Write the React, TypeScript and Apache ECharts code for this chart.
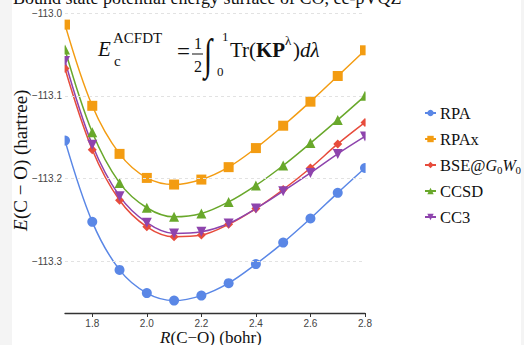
import React, { useEffect, useRef } from "react";
import * as echarts from "echarts";

const bondLengths = [1.7, 1.8, 1.9, 2.0, 2.1, 2.2, 2.3, 2.4, 2.5, 2.6, 2.7, 2.8];
const rpa = [-113.154, -113.252, -113.31, -113.338, -113.347, -113.341, -113.326, -113.303, -113.277, -113.248, -113.217, -113.187];
const rpax = [-113.014, -113.112, -113.17, -113.199, -113.207, -113.201, -113.186, -113.163, -113.136, -113.107, -113.076, -113.045];
const bse = [-113.067, -113.165, -113.226, -113.258, -113.27, -113.268, -113.255, -113.236, -113.213, -113.187, -113.158, -113.132];
const ccsd = [-113.044, -113.144, -113.205, -113.235, -113.246, -113.242, -113.228, -113.208, -113.184, -113.157, -113.129, -113.1];
const cc3 = [-113.058, -113.159, -113.221, -113.253, -113.266, -113.264, -113.254, -113.236, -113.215, -113.193, -113.17, -113.149];

const xTicks = [1.8, 2.0, 2.2, 2.4, 2.6, 2.8];
const yTicks = [-113.3, -113.2, -113.1, -113.0];
const seriesNames = ["RPA", "RPAx", "BSE@G0W0", "CCSD", "CC3"];

const SERIF = "Liberation Serif";
const SANS = "Liberation Sans";

export default function App() {
  const ref = useRef<HTMLDivElement>(null);
  useEffect(() => {
    const chart = echarts.init(ref.current!, null, { renderer: "svg" });
    const minus = (v: number, d: number) => (v < 0 ? "\u2212" : "") + Math.abs(v).toFixed(d);
    const mk = (name: string, data: number[], color: string, symbol: string, size: number, rotate = 0) => ({
      name,
      type: "line",
      data: bondLengths.map((x, i) => [x, data[i]]),
      smooth: 0.35,
      symbol,
      symbolSize: size,
      symbolRotate: rotate,
      showSymbol: true,
      lineStyle: { color, width: 1.5 },
      itemStyle: { color },
      z: 2,
    });
    const t = (text: string, x: number, y: number, size: number, extra: any = {}) => ({
      type: "text",
      x,
      y,
      z: 20,
      style: { text, fontFamily: SERIF, fontSize: size, fill: "#111", align: "left", verticalAlign: "middle", ...extra },
    });
    // legend geometry: rows of height 16 separated by 10
    const legendTop = 105;
    const rowH = 16;
    const rowGap = 10;
    const rowY = (k: number) => legendTop + k * (rowH + rowGap) + rowH / 2;
    const labelX = 440;
    const bseY = rowY(2);
    chart.setOption({
      animation: false,
      backgroundColor: "#ffffff",
      textStyle: { fontFamily: SERIF },
      grid: { left: 65, right: 159, top: 13, bottom: 32, containLabel: false, outerBoundsMode: "none" },
      xAxis: {
        type: "value",
        min: 1.7,
        max: 2.8,
        z: 10,
        axisLine: { show: true, lineStyle: { color: "#333", width: 1.3 } },
        axisTick: { show: true, length: 4, customValues: xTicks, lineStyle: { color: "#333" } },
        axisLabel: { customValues: xTicks, formatter: (v: number) => v.toFixed(1), color: "#444", fontSize: 10, fontFamily: SANS, margin: 5 },
        splitLine: { show: false },
      },
      yAxis: {
        type: "value",
        min: -113.362,
        max: -113.0,
        z: 10,
        axisLine: { show: false },
        axisTick: { show: false, customValues: yTicks },
        axisLabel: { customValues: yTicks, formatter: (v: number) => minus(v, 1), color: "#444", fontSize: 10, fontFamily: SANS, margin: 3 },
        splitLine: { show: true, lineStyle: { color: "#e2e2e2", type: [3, 3], width: 1 } },
      },
      legend: {
        orient: "vertical",
        left: 424,
        top: legendTop,
        padding: 0,
        itemWidth: 11,
        itemHeight: 8,
        itemGap: rowGap,
        textStyle: { fontSize: 12, lineHeight: rowH, height: rowH, color: "rgba(0,0,0,0)" },
        formatter: () => " ",
        data: seriesNames,
      },
      graphic: [
        t("Bound state potential energy surface of CO, cc-pVQZ", 13, 6.5, 18, { verticalAlign: "bottom" }),
        { type: "rect", z: 30, shape: { x: 0, y: 0, width: 12, height: 345 }, style: { fill: "#f4f4f4" } },
        { type: "rect", z: 30, shape: { x: 521, y: 0, width: 3, height: 345 }, style: { fill: "#f4f4f4" } },
        { type: "rect", z: 5, shape: { x: 52, y: 13.5, width: 12.6, height: 299 }, style: { fill: "#fff" } },
        { type: "rect", z: 5, shape: { x: 365.6, y: 13.5, width: 10, height: 299 }, style: { fill: "#fff" } },
        // legend labels
        t("RPA", labelX, rowY(0), 16.5),
        t("RPAx", labelX, rowY(1), 16.5),
        t("BSE@", labelX, bseY, 16.5),
        t("G", 485.5, bseY, 16, { fontStyle: "italic" }),
        t("0", 497, bseY + 5, 11),
        t("W", 502.5, bseY, 16, { fontStyle: "italic" }),
        t("0", 515.5, bseY + 5, 11),
        t("CCSD", labelX, rowY(3), 16.5),
        t("CC3", labelX, rowY(4), 16.5),
        // y axis title (rotated, reads bottom to top)
        {
          type: "group",
          x: 20,
          y: 159,
          rotation: Math.PI / 2,
          z: 20,
          children: [
            t("E", -72, 0, 19, { fontStyle: "italic" }),
            t("(C \u2212 O) (hartree)", -60, 0, 19),
          ],
        },
        // x axis title
        t("R", 160, 337, 17, { fontStyle: "italic" }),
        t("(C\u2212O) (bohr)", 170.5, 337, 17),
        // formula
        t("E", 98, 49, 21, { fontStyle: "italic" }),
        t("ACFDT", 113, 38, 15),
        t("c", 114, 61, 15),
        t("=", 177, 51, 23),
        t("1", 194, 43, 16),
        { type: "rect", z: 20, shape: { x: 192, y: 53.5, width: 11, height: 1 }, style: { fill: "#111" } },
        t("2", 194, 66, 16),
        { ...t("\u222B", 204, 54, 30, { fontStyle: "italic" }), scaleY: 1.45 },
        t("1", 222, 36, 13),
        t("0", 217, 71, 13),
        t("Tr(", 230, 50, 21),
        t("KP", 256, 50, 21, { fontWeight: "bold" }),
        t("\u03BB", 285, 40, 13),
        t(")", 293, 50, 21),
        t("d\u03BB", 300, 50, 21, { fontStyle: "italic" }),
      ],
      series: [
        mk(seriesNames[0], rpa, "#5a87e6", "circle", 10),
        mk(seriesNames[1], rpax, "#f39c12", "rect", 10),
        mk(seriesNames[2], bse, "#e74c3c", "diamond", 9),
        mk(seriesNames[3], ccsd, "#69a82b", "triangle", 10),
        mk(seriesNames[4], cc3, "#8e44ad", "triangle", 10, 180),
      ],
    });
    return () => chart.dispose();
  }, []);
  return <div ref={ref} style={{ position: "absolute", left: 0, top: 0, width: 524, height: 345, background: "#fff" }} />;
}
